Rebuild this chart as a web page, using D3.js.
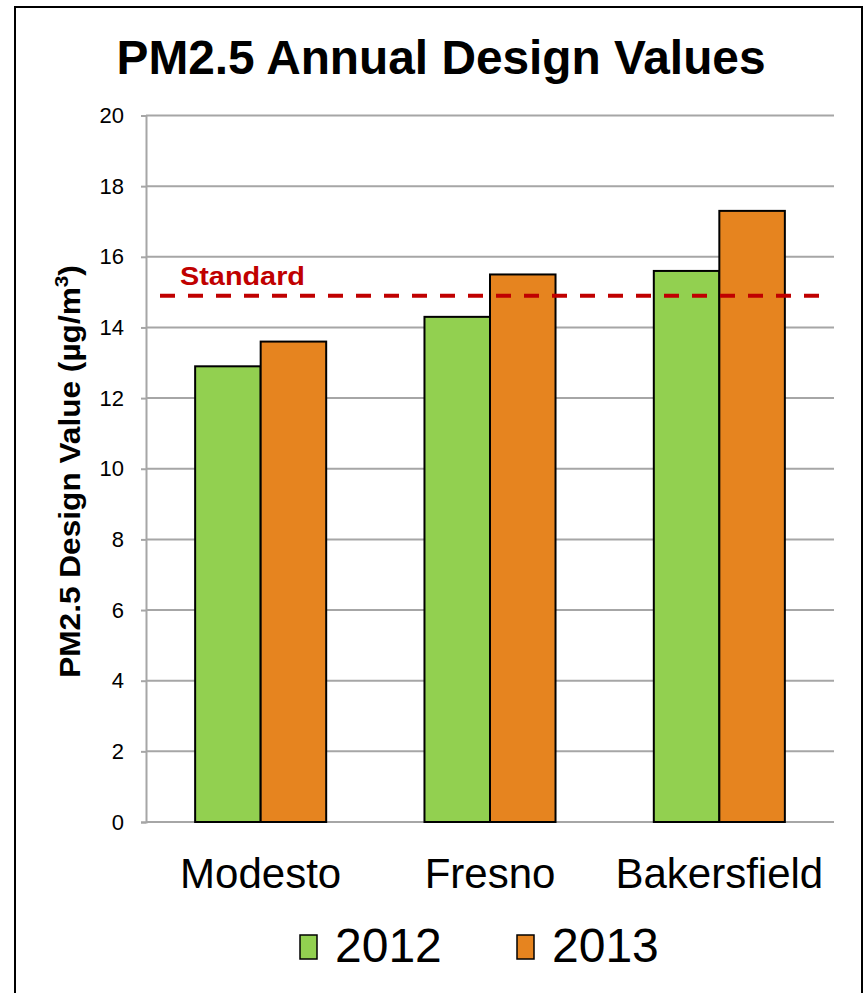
<!DOCTYPE html>
<html><head><meta charset="utf-8">
<script src="https://cdn.jsdelivr.net/npm/d3@7"></script>
<style>body{margin:0;background:#fff;} svg{display:block;font-family:"Liberation Sans",Arial,sans-serif;}</style>
</head><body>
<svg id="c" width="864" height="993"></svg>
<script>
const categories = ["Modesto", "Fresno", "Bakersfield"];
const seriesNames = ["2012", "2013"];
const values2012 = [12.9, 14.3, 15.6];
const values2013 = [13.6, 15.5, 17.3];
const yTicks = [0, 2, 4, 6, 8, 10, 12, 14, 16, 18, 20];
const standardValue = 14.9;
const colors = ["#92d050", "#e6841f"];

const svg = d3.select("#c");
svg.append("rect").attr("x",15).attr("y",7).attr("width",847).attr("height",1000)
  .attr("fill","#fff").attr("stroke","#000").attr("stroke-width",2);

const L=146, R=834, T=115.5, B=822;
const x = d3.scaleBand().domain(categories).range([L,R]).paddingInner(1.5/3.5).paddingOuter(0.75/3.5);
const xs = d3.scaleBand().domain(seriesNames).range([0,x.bandwidth()]);
const y = d3.scaleLinear().domain([0,20]).range([B,T]);

// gridlines
svg.append("g").selectAll("line").data(yTicks.filter(d=>d>0)).join("line")
  .attr("x1",L).attr("x2",R).attr("y1",d=>y(d)).attr("y2",d=>y(d))
  .attr("stroke","#a6a6a6").attr("stroke-width",2);

// y axis
const ya = svg.append("g").attr("transform",`translate(${L},0)`)
  .call(d3.axisLeft(y).tickValues(yTicks).tickSize(5).tickPadding(17));
ya.select(".domain").attr("stroke","#a6a6a6").attr("stroke-width",2);
ya.selectAll(".tick line").attr("stroke","#a6a6a6").attr("stroke-width",2);
ya.selectAll("text").attr("font-size",22).attr("fill","#000").attr("font-family","Liberation Sans, Arial, sans-serif");

// x axis baseline
svg.append("line").attr("x1",L).attr("x2",R).attr("y1",B).attr("y2",B).attr("stroke","#a6a6a6").attr("stroke-width",2);

// bars
const data = categories.map((c,i)=>({c, vals:[values2012[i], values2013[i]]}));
const g = svg.append("g").selectAll("g").data(data).join("g").attr("transform",d=>`translate(${x(d.c)},0)`);
g.selectAll("rect").data(d=>d.vals.map((v,j)=>({v,s:seriesNames[j],j}))).join("rect")
  .attr("x",d=>xs(d.s)).attr("width",xs.bandwidth())
  .attr("y",d=>y(d.v)).attr("height",d=>B-y(d.v))
  .attr("fill",d=>colors[d.j]).attr("stroke","#000").attr("stroke-width",2);

// x labels
svg.append("g").selectAll("text").data(categories).join("text")
  .attr("x",d=>x(d)+x.bandwidth()/2).attr("y",888).attr("text-anchor","middle")
  .attr("font-size",42).text(d=>d);

// standard line
svg.append("line").attr("x1",160).attr("x2",822).attr("y1",y(standardValue)).attr("y2",y(standardValue))
  .attr("stroke","#c00000").attr("stroke-width",4).attr("stroke-dasharray","15,13");
svg.append("text").attr("x",180).attr("y",285).attr("font-size",25).attr("font-weight","bold")
  .attr("fill","#c00000").attr("textLength",125).attr("lengthAdjust","spacingAndGlyphs").text("Standard");

// title
svg.append("text").attr("x",441).attr("y",74).attr("text-anchor","middle").attr("font-size",48)
  .attr("font-weight","bold").attr("textLength",649).attr("lengthAdjust","spacingAndGlyphs")
  .text("PM2.5 Annual Design Values");

// y title
const yt = svg.append("text").attr("transform","translate(80,471.5) rotate(-90)").attr("text-anchor","middle")
  .attr("font-size",29).attr("font-weight","bold");
yt.append("tspan").text("PM2.5 Design Value (µg/m");
yt.append("tspan").attr("font-size",19).attr("dy",-12).text("3");
yt.append("tspan").attr("dy",12).text(")");
// stretch to match reference length
const bb = yt.node().getBBox();
const sc = 413 / bb.width;
yt.attr("transform",`translate(80,471.5) rotate(-90) scale(${sc},1)`);

// legend
const leg = [{n:"2012",x:300,c:colors[0]},{n:"2013",x:517,c:colors[1]}];
const lg = svg.append("g").selectAll("g").data(leg).join("g");
lg.append("rect").attr("x",d=>d.x).attr("y",935).attr("width",17).attr("height",24)
  .attr("fill",d=>d.c).attr("stroke","#000").attr("stroke-width",1.5);
lg.append("text").attr("x",d=>d.x+35).attr("y",962).attr("font-size",48).text(d=>d.n);
</script>
</body></html>
